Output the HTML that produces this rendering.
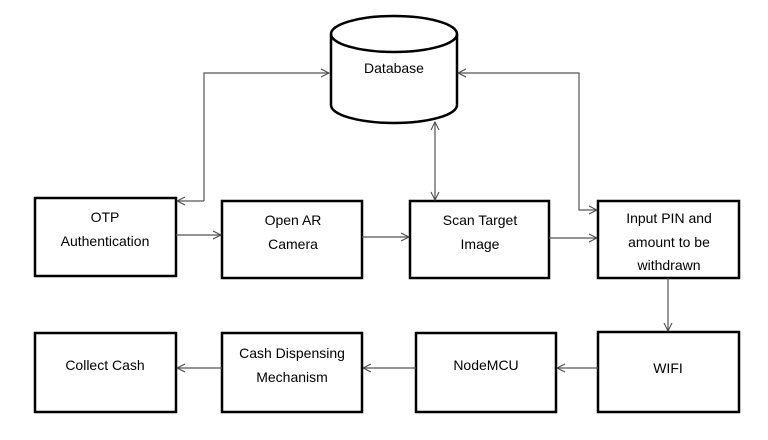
<!DOCTYPE html>
<html><head><meta charset="utf-8"><style>
html,body{margin:0;padding:0;background:#fff;width:768px;height:440px;overflow:hidden}
svg{display:block}
text{font-family:"Liberation Sans",sans-serif;font-size:14px;fill:#000;text-anchor:middle}
</style></head><body>
<svg width="768" height="440" viewBox="0 0 768 440">
<defs>
<marker id="a" markerWidth="10" markerHeight="10" refX="9" refY="5" orient="auto" markerUnits="userSpaceOnUse">
<path d="M1,1 L9,5 L1,9" fill="none" stroke="#444" stroke-width="1"/>
</marker>
</defs>
<g fill="none" stroke="#000" stroke-width="2.5">
<rect x="35" y="198" width="141" height="78"/>
<rect x="222" y="201" width="140" height="77"/>
<rect x="410" y="201" width="139" height="77"/>
<rect x="598" y="201" width="141" height="77"/>
<rect x="35" y="333" width="141" height="79"/>
<rect x="222" y="333" width="140" height="79"/>
<rect x="416" y="333" width="140" height="79"/>
<rect x="598" y="332" width="141" height="80"/>
<path d="M331,34 L331,105 A63,18 0 0 0 457,105 L457,34"/>
<ellipse cx="394" cy="34" rx="63" ry="18"/>
</g>
<g fill="none" stroke="#555" stroke-width="1.2">
<path d="M204,201 L204,73 L329,73" marker-end="url(#a)"/>
<path d="M204,201 L177,201" marker-end="url(#a)"/>
<path d="M435,160 L435,122" marker-end="url(#a)"/>
<path d="M435,160 L435,200" marker-end="url(#a)"/>
<path d="M579,140 L579,73 L458,73" marker-end="url(#a)"/>
<path d="M579,140 L579,210 L597,210" marker-end="url(#a)"/>
<path d="M176,235 L221,235" marker-end="url(#a)"/>
<path d="M362,237 L409,237" marker-end="url(#a)"/>
<path d="M549,238 L597,238" marker-end="url(#a)"/>
<path d="M668,278 L668,331" marker-end="url(#a)"/>
<path d="M598,368 L557,368" marker-end="url(#a)"/>
<path d="M416,368 L363,368" marker-end="url(#a)"/>
<path d="M222,368 L177,368" marker-end="url(#a)"/>
</g>
<text x="394" y="73">Database</text>
<text x="105" y="222">OTP</text>
<text x="105" y="246">Authentication</text>
<text x="293" y="225">Open AR</text>
<text x="293" y="249">Camera</text>
<text x="480" y="225">Scan Target</text>
<text x="480" y="249">Image</text>
<text x="669" y="223">Input PIN and</text>
<text x="669" y="247">amount to be</text>
<text x="669" y="270">withdrawn</text>
<text x="105" y="370">Collect Cash</text>
<text x="292" y="358">Cash Dispensing</text>
<text x="292" y="382">Mechanism</text>
<text x="486" y="370">NodeMCU</text>
<text x="668" y="373">WIFI</text>
</svg>
</body></html>
